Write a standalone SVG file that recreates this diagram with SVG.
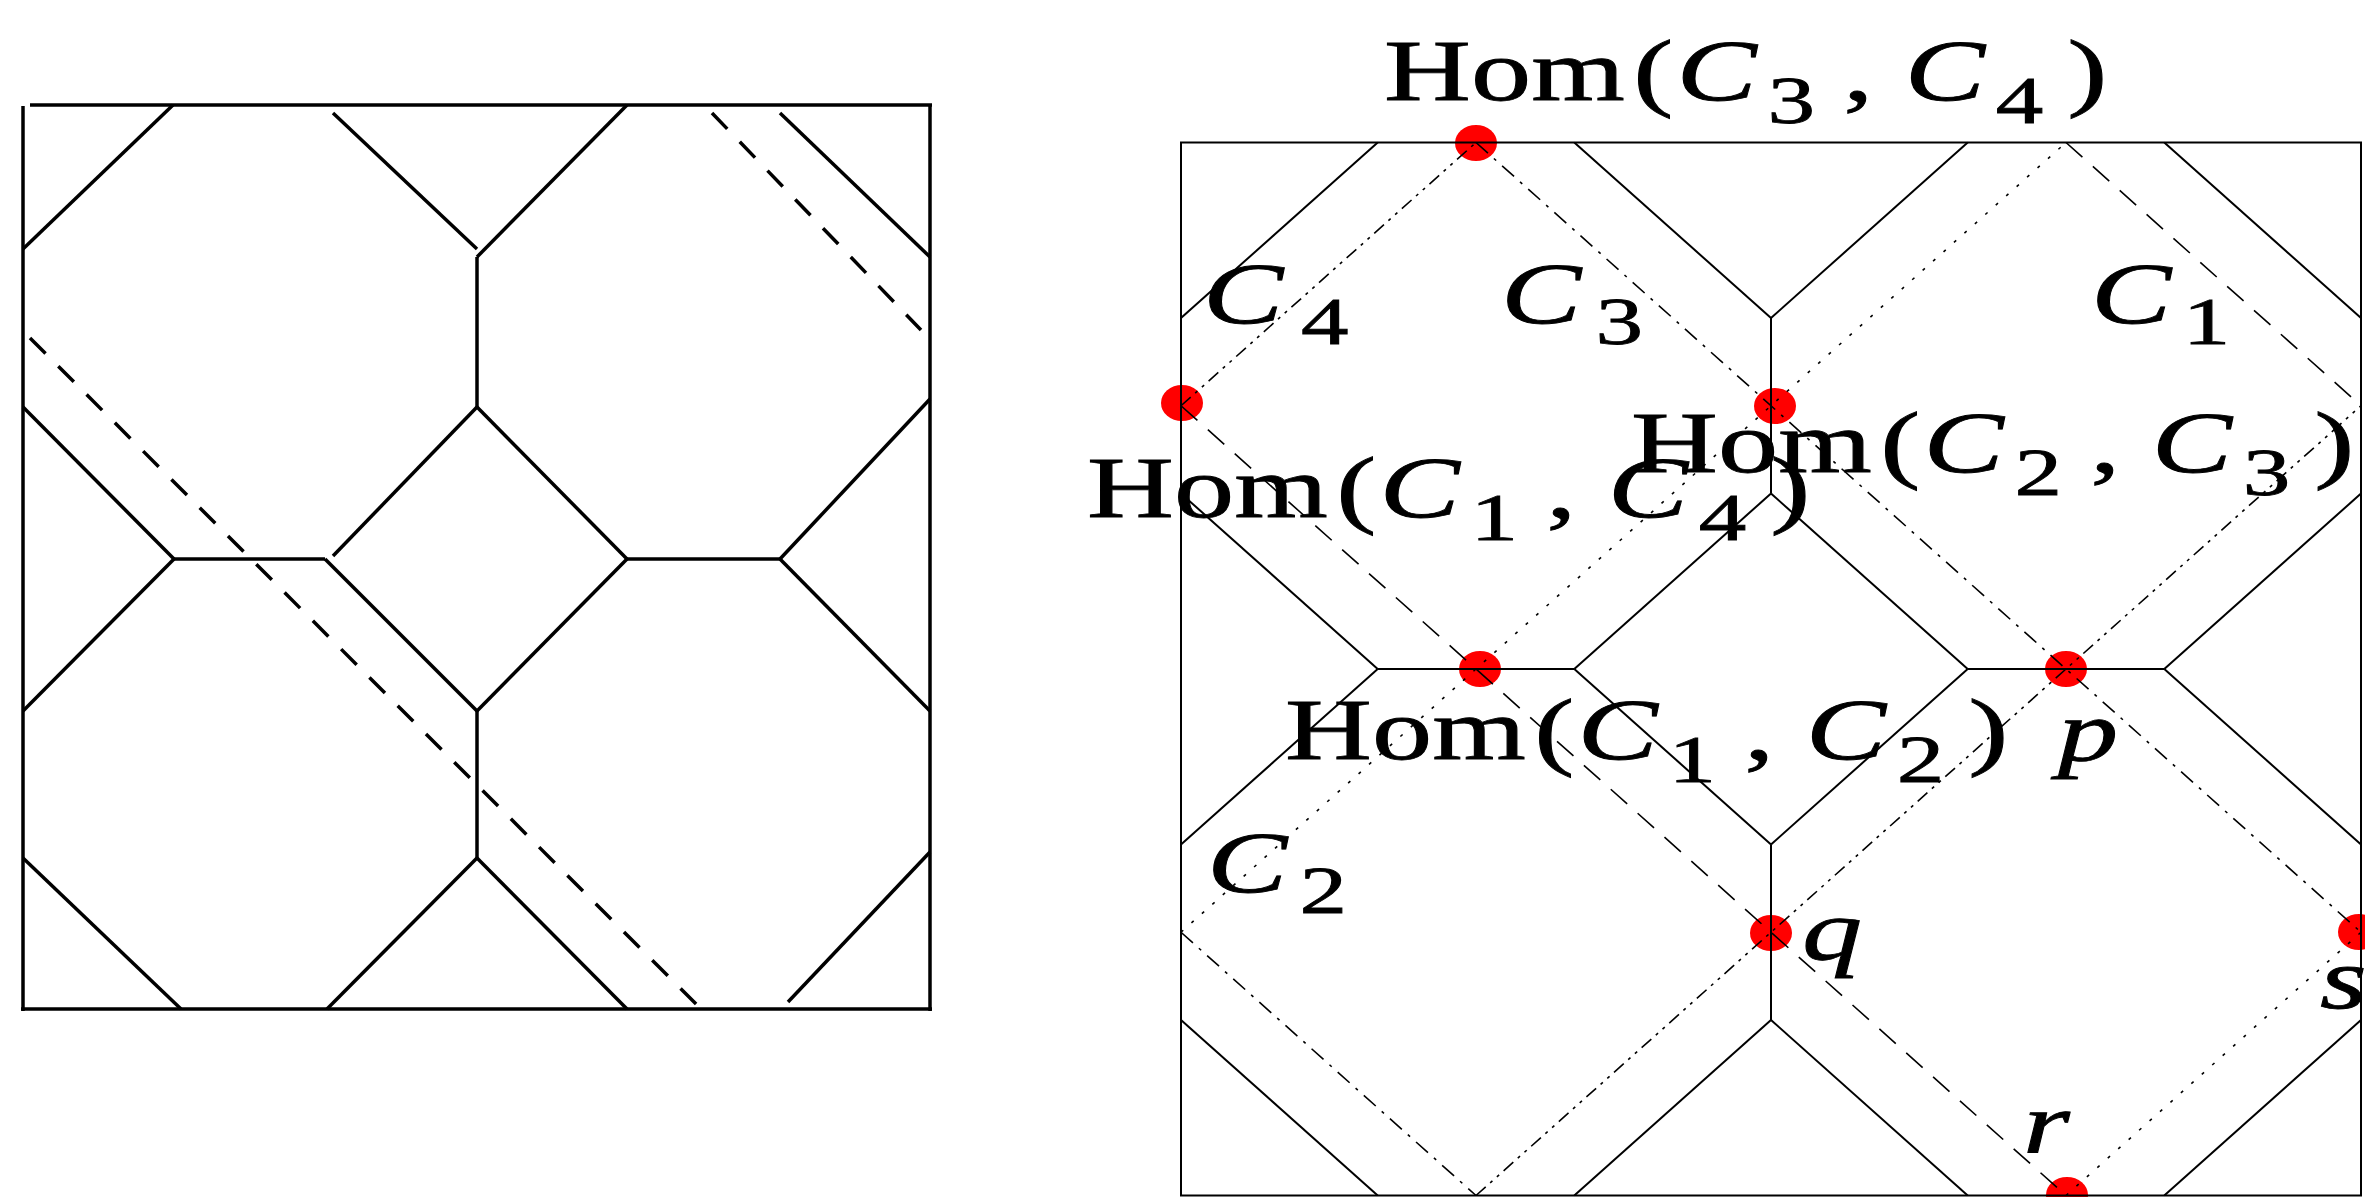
<svg xmlns="http://www.w3.org/2000/svg" width="2365" height="1197" viewBox="0 0 2365 1197">
<style>
.lp{stroke:#000;stroke-width:3.5;fill:none}
.ld{stroke-dasharray:22 18}
.rp{stroke:#000;stroke-width:2;fill:none}
.dl{stroke:#000;stroke-width:1.6;fill:none}
.dsh{stroke-dasharray:22 14}
.dd{stroke-dasharray:16 8 3 8}
.dot{stroke-dasharray:3 11}
.ddd{stroke-dasharray:13 6 3 6 3 6}
.pt{fill:#ff0000}
text{font-family:"Liberation Serif","DejaVu Serif",serif;font-size:86px;fill:#000;stroke:#000;stroke-width:0.8}
.i{font-style:italic}
.s{font-size:68px}
</style>
<rect width="2365" height="1197" fill="#fff"/>

<g id="left-panel">
  <line class="lp" x1="30" y1="105" x2="932" y2="105"/>
  <line class="lp" x1="23" y1="106" x2="23" y2="1011"/>
  <line class="lp" x1="930" y1="104" x2="930" y2="1011"/>
  <line class="lp" x1="21" y1="1009" x2="932" y2="1009"/>
  <line class="lp" x1="173" y1="105" x2="23" y2="249"/>
  <line class="lp" x1="333" y1="113" x2="477" y2="249"/>
  <line class="lp" x1="627" y1="105" x2="477" y2="257"/>
  <line class="lp" x1="477" y1="257" x2="477" y2="407"/>
  <line class="lp" x1="780" y1="113" x2="930" y2="257"/>
  <line class="lp" x1="23" y1="407" x2="174" y2="559"/>
  <line class="lp" x1="174" y1="559" x2="325" y2="559"/>
  <line class="lp" x1="333" y1="556" x2="477" y2="407"/>
  <line class="lp" x1="477" y1="407" x2="627" y2="559"/>
  <line class="lp" x1="627" y1="559" x2="780" y2="559"/>
  <line class="lp" x1="780" y1="559" x2="930" y2="399"/>
  <line class="lp" x1="174" y1="559" x2="23" y2="711"/>
  <line class="lp" x1="325" y1="559" x2="477" y2="711"/>
  <line class="lp" x1="627" y1="559" x2="477" y2="711"/>
  <line class="lp" x1="780" y1="559" x2="930" y2="711"/>
  <line class="lp" x1="477" y1="711" x2="477" y2="858"/>
  <line class="lp" x1="23" y1="858" x2="181" y2="1009"/>
  <line class="lp" x1="477" y1="858" x2="327" y2="1009"/>
  <line class="lp" x1="477" y1="858" x2="627" y2="1009"/>
  <line class="lp" x1="788" y1="1002" x2="930" y2="852"/>
  <line class="lp ld" x1="30" y1="338" x2="700" y2="1008"/>
  <line class="lp ld" x1="712" y1="113" x2="921" y2="330"/>
</g>

<g id="points">
  <ellipse id="pt-hom-c3-c4" class="pt" cx="1476" cy="143" rx="21" ry="18"/>
  <ellipse id="pt-hom-c1-c4" class="pt" cx="1182" cy="403" rx="21" ry="18"/>
  <ellipse id="pt-hom-c2-c3" class="pt" cx="1775" cy="406" rx="21" ry="18"/>
  <ellipse id="pt-hom-c1-c2" class="pt" cx="1480" cy="669" rx="21" ry="18"/>
  <ellipse id="pt-p" class="pt" cx="2066" cy="669" rx="21" ry="18"/>
  <ellipse id="pt-q" class="pt" cx="1771" cy="933" rx="21" ry="18"/>
  <ellipse id="pt-s" class="pt" cx="2359" cy="932" rx="21" ry="18"/>
  <ellipse id="pt-r" class="pt" cx="2067" cy="1195" rx="21" ry="18"/>
</g>

<g id="connectors">
  <rect class="rp" x="1181" y="142.5" width="1180" height="1053"/>
  <line class="rp" x1="1377.7" y1="142.5" x2="1181" y2="318"/>
  <line class="rp" x1="1574.3" y1="142.5" x2="1771" y2="318"/>
  <line class="rp" x1="1967.7" y1="142.5" x2="1771" y2="318"/>
  <line class="rp" x1="2164.3" y1="142.5" x2="2361" y2="318"/>
  <line class="rp" x1="1771" y1="318" x2="1771" y2="493.5"/>
  <line class="rp" x1="1181" y1="493.5" x2="1377.7" y2="669"/>
  <line class="rp" x1="1771" y1="493.5" x2="1574.3" y2="669"/>
  <line class="rp" x1="1771" y1="493.5" x2="1967.7" y2="669"/>
  <line class="rp" x1="2361" y1="493.5" x2="2164.3" y2="669"/>
  <line class="rp" x1="1377.7" y1="669" x2="1574.3" y2="669"/>
  <line class="rp" x1="1967.7" y1="669" x2="2164.3" y2="669"/>
  <line class="rp" x1="1377.7" y1="669" x2="1181" y2="844.5"/>
  <line class="rp" x1="1574.3" y1="669" x2="1771" y2="844.5"/>
  <line class="rp" x1="1967.7" y1="669" x2="1771" y2="844.5"/>
  <line class="rp" x1="2164.3" y1="669" x2="2361" y2="844.5"/>
  <line class="rp" x1="1771" y1="844.5" x2="1771" y2="1020"/>
  <line class="rp" x1="1181" y1="1020" x2="1377.7" y2="1195.5"/>
  <line class="rp" x1="1771" y1="1020" x2="1574.3" y2="1195.5"/>
  <line class="rp" x1="1771" y1="1020" x2="1967.7" y2="1195.5"/>
  <line class="rp" x1="2361" y1="1020" x2="2164.3" y2="1195.5"/>

  <line class="dl dsh" x1="1181" y1="405.75" x2="2066" y2="1195.5"/>
  <line class="dl dsh" x1="2066" y1="142.5" x2="2361" y2="405.75"/>
  <line class="dl dd" x1="1476" y1="142.5" x2="2361" y2="932.25"/>
  <line class="dl dd" x1="1181" y1="932.25" x2="1476" y2="1195.5"/>
  <line class="dl dot" x1="1181" y1="932.25" x2="2066" y2="142.5"/>
  <line class="dl dot" x1="2066" y1="1195.5" x2="2361" y2="932.25"/>
  <line class="dl ddd" x1="1476" y1="1195.5" x2="2361" y2="405.75"/>
  <line class="dl ddd" x1="1181" y1="405.75" x2="1476" y2="142.5"/>
</g>

<g id="label-hom-c3-c4">
  <text transform="translate(1384,100) scale(1.4,1)"><tspan x="0">Hom</tspan><tspan x="178">(</tspan><tspan x="209" class="i">C</tspan><tspan x="274" y="23" class="s">3</tspan><tspan x="328" y="0">,</tspan><tspan x="372" class="i">C</tspan><tspan x="437" y="23" class="s">4</tspan><tspan x="488" y="0">)</tspan></text>
</g>
<g id="label-hom-c1-c4">
  <text transform="translate(1087,517) scale(1.4,1)"><tspan x="0">Hom</tspan><tspan x="178">(</tspan><tspan x="209" class="i">C</tspan><tspan x="274" y="23" class="s">1</tspan><tspan x="328" y="0">,</tspan><tspan x="372" class="i">C</tspan><tspan x="437" y="23" class="s">4</tspan><tspan x="488" y="0">)</tspan></text>
</g>
<g id="label-hom-c2-c3">
  <text transform="translate(1631,472) scale(1.4,1)"><tspan x="0">Hom</tspan><tspan x="178">(</tspan><tspan x="209" class="i">C</tspan><tspan x="274" y="23" class="s">2</tspan><tspan x="328" y="0">,</tspan><tspan x="372" class="i">C</tspan><tspan x="437" y="23" class="s">3</tspan><tspan x="488" y="0">)</tspan></text>
</g>
<g id="label-hom-c1-c2">
  <text transform="translate(1285,759) scale(1.4,1)"><tspan x="0">Hom</tspan><tspan x="178">(</tspan><tspan x="209" class="i">C</tspan><tspan x="274" y="23" class="s">1</tspan><tspan x="328" y="0">,</tspan><tspan x="372" class="i">C</tspan><tspan x="437" y="23" class="s">2</tspan><tspan x="488" y="0">)</tspan></text>
</g>
<g id="label-c4">
  <text transform="translate(1203,323) scale(1.4,1)"><tspan x="0" class="i">C</tspan><tspan x="70" y="21" class="s">4</tspan></text>
</g>
<g id="label-c3">
  <text transform="translate(1501,323) scale(1.4,1)"><tspan x="0" class="i">C</tspan><tspan x="67.5" y="21" class="s">3</tspan></text>
</g>
<g id="label-c1">
  <text transform="translate(2091,323) scale(1.4,1)"><tspan x="0" class="i">C</tspan><tspan x="65.5" y="21" class="s">1</tspan></text>
</g>
<g id="label-c2">
  <text transform="translate(1207,892) scale(1.4,1)"><tspan x="0" class="i">C</tspan><tspan x="66" y="21" class="s">2</tspan></text>
</g>
<g id="label-p"><text class="i" transform="translate(2058,760) scale(1.4,1)">p</text></g>
<g id="label-q"><text class="i" transform="translate(1802,959) scale(1.4,1)">q</text></g>
<g id="label-r"><text class="i" transform="translate(2023,1153) scale(1.4,1)">r</text></g>
<g id="label-s"><text class="i" transform="translate(2320,1008) scale(1.4,1)">s</text></g>
</svg>
